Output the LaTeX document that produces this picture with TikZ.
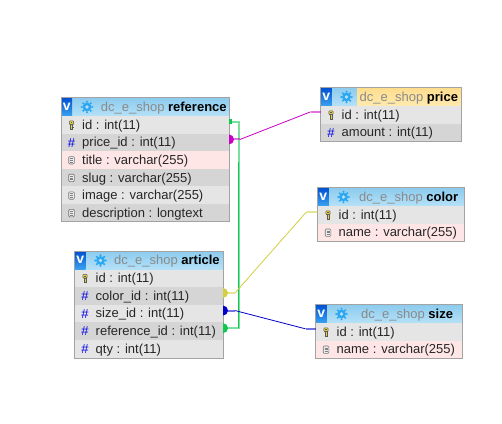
\documentclass[tikz,border=0pt]{standalone}
\usepackage{fontspec}
\setmainfont{Liberation Sans}
\definecolor{frameC}{HTML}{A3A3A3}
\definecolor{rowA}{HTML}{E5E5E5}
\definecolor{rowB}{HTML}{D5D5D5}
\definecolor{rowP}{HTML}{FFE6E6}
\definecolor{headT}{HTML}{8CCBEE}
\definecolor{headB}{HTML}{B5E1F8}
\definecolor{yelT}{HTML}{FFDD8C}
\definecolor{yelB}{HTML}{FFEAB0}
\definecolor{vT}{HTML}{0050D0}
\definecolor{vB}{HTML}{3AA2F2}
\definecolor{gearC}{HTML}{2BA6F0}
\definecolor{hashC}{HTML}{0000E6}
\definecolor{dbC}{HTML}{8A8A8A}
\definecolor{keyC}{HTML}{E8D040}
\definecolor{cGreen}{HTML}{10C850}
\definecolor{cMag}{HTML}{C800C8}
\definecolor{cYel}{HTML}{D2D040}
\definecolor{cBlue}{HTML}{0000C8}
\tikzset{
  x=1pt,y=-1pt,
  rowbox/.style={anchor=north west,inner sep=0pt,outer sep=0pt,minimum width=#1,minimum height=17.7pt},
  rowtext/.style={anchor=base west,inner sep=0pt,font=\fontsize{13}{15}\selectfont,text=black!85},
  hashtext/.style={anchor=center,inner sep=0pt,font=\fontsize{13}{15}\selectfont,text=hashC},
  titletext/.style={anchor=base west,inner sep=0pt,font=\fontsize{13}{15}\selectfont,text=dbC},
  framebox/.style={anchor=north west,draw=frameC,line width=1pt,inner sep=0pt,outer sep=0pt},
  halo/.style={line width=2pt,opacity=.55},
  wire/.style={line width=.8pt},
}
% key icon at (#1)
\newcommand{\keyicon}[1]{%
  \begin{scope}[shift={(#1)}]
    \draw[black!65,fill=keyC,line width=.6pt,rounded corners=.8pt] (-2.1,-4.2) rectangle (2.1,-.4);
    \draw[black!65,fill=keyC,line width=.6pt] (-1,-.4) rectangle (1,4);
    \fill[black!65] (-.7,-3) rectangle (.7,-2);
    \fill[black!65] (1,1.6) rectangle (2,2.4);
  \end{scope}}
% document icon at (#1)
\newcommand{\docicon}[1]{%
  \begin{scope}[shift={(#1)}]
    \draw[black!55,fill=white!92!black,line width=.6pt,rounded corners=1pt] (-2.8,-3.6) rectangle (2.8,3.8);
    \foreach \ly in {-1.7,0.1,1.9}{\draw[black!50,line width=.6pt] (-1.5,\ly) -- (1.5,\ly);}
  \end{scope}}
% header: #1 tag, #2 width, #3 title text offset, #4 table name, #5 colour top, #6 colour bottom
\newcommand{\tablehead}[6]{%
  \node[rowbox=#2,minimum height=18.5pt,top color=headT,bottom color=headB] (#1Head) at (0,0) {};
  \ifx#5headT\else\fill[top color=#5,bottom color=#6] (37,0) rectangle (#2,18.5);\fi
  \node[rowbox=10.5,minimum height=18.5pt,top color=vT,bottom color=vB,text=white,font=\fontsize{14}{15}\bfseries\selectfont] (#1V) at (.5,0) {v};
  \foreach \a in {0,45,...,315}{\fill[gearC] (26,9.5) ++(\a:5.2pt) circle (1.15pt);}
  \fill[gearC] (26,9.5) circle (4.4pt);
  \fill[headB] (26,9.5) circle (1.9pt);
  \node[titletext] (#1Title) at (#3,13.8) {dc\_e\_shop \textcolor{black}{\textbf{#4}}};}
% row: #1 node name, #2 index, #3 width, #4 fill, #5 icon kind, #6 text
\newcommand{\tablerow}[6]{%
  \pgfmathsetmacro{\rowy}{18.5+(#2-1)*17.6}
  \node[rowbox=#3,fill=#4] (#1) at (0,\rowy) {};
  \node[rowtext] (#1Text) at (21,\rowy+13.2) {#6};
  \coordinate (#1Icon) at (10.5,\rowy+9);
  \ifcase#5\relax \keyicon{#1Icon}\or \node[hashtext] (#1Hash) at (#1Icon) {\#};\or \docicon{#1Icon}\fi}
\begin{document}
\begin{tikzpicture}
\useasboundingbox[fill=white] (0,0) rectangle (502,423);

% reference
\begin{scope}[shift={(61,97.5)}]
  \tablehead{ref}{168}{39.7}{reference}{headT}{headB}
  \tablerow{refA}{1}{168}{rowA}{0}{id : int(11)}
  \tablerow{refB}{2}{168}{rowB}{1}{price\_id : int(11)}
  \tablerow{refC}{3}{168}{rowP}{2}{title : varchar(255)}
  \tablerow{refD}{4}{168}{rowB}{2}{slug : varchar(255)}
  \tablerow{refE}{5}{168}{rowA}{2}{image : varchar(255)}
  \tablerow{refF}{6}{168}{rowB}{2}{description : longtext}
  \node[framebox,minimum width=168pt,minimum height=124.1pt] (refFrame) at (0,0) {};
\end{scope}

% article
\begin{scope}[shift={(74.5,251)}]
  \tablehead{art}{148.5}{39.5}{article}{headT}{headB}
  \tablerow{artA}{1}{148.5}{rowA}{0}{id : int(11)}
  \tablerow{artB}{2}{148.5}{rowB}{1}{color\_id : int(11)}
  \tablerow{artC}{3}{148.5}{rowA}{1}{size\_id : int(11)}
  \tablerow{artD}{4}{148.5}{rowB}{1}{reference\_id : int(11)}
  \tablerow{artE}{5}{148.5}{rowA}{1}{qty : int(11)}
  \node[framebox,minimum width=148.5pt,minimum height=107pt] (artFrame) at (0,0) {};
\end{scope}

% price
\begin{scope}[shift={(320.5,87.5)}]
  \tablehead{pri}{140.5}{39}{price}{yelT}{yelB}
  \tablerow{priA}{1}{140.5}{rowA}{0}{id : int(11)}
  \tablerow{priB}{2}{140.5}{rowB}{1}{amount : int(11)}
  \node[framebox,minimum width=140.5pt,minimum height=54pt] (priFrame) at (0,0) {};
\end{scope}

% color
\begin{scope}[shift={(317.5,187.5)}]
  \tablehead{col}{146.5}{41.5}{color}{headT}{headB}
  \tablerow{colA}{1}{146.5}{rowA}{0}{id : int(11)}
  \tablerow{colB}{2}{146.5}{rowP}{2}{name : varchar(255)}
  \node[framebox,minimum width=146.5pt,minimum height=54pt] (colFrame) at (0,0) {};
\end{scope}

% size
\begin{scope}[shift={(315.5,304.5)}]
  \tablehead{siz}{146.5}{45.5}{size}{headT}{headB}
  \tablerow{sizA}{1}{146.5}{rowA}{0}{id : int(11)}
  \tablerow{sizB}{2}{146.5}{rowP}{2}{name : varchar(255)}
  \node[framebox,minimum width=146.5pt,minimum height=54pt] (sizFrame) at (0,0) {};
\end{scope}

% connector anchor points
\coordinate (gA) at ([yshift=3pt]refA.east);
\coordinate (gB) at ([yshift=3pt]artD.east);
\coordinate (gX) at (238.5,0);
\coordinate (mA) at ([yshift=3pt]refB.east);
\coordinate (mB) at ([yshift=3pt]priA.west);
\coordinate (yA) at ([yshift=3pt]artB.east);
\coordinate (yB) at ([yshift=3pt]colA.west);
\coordinate (bA) at ([yshift=3pt]artC.east);
\coordinate (bB) at ([yshift=3pt]sizA.west);

% green: reference.id - article.reference_id
\draw[halo,cGreen] (gA) -- (gX |- gA) -- (gX |- gB) -- (gB);
\draw[wire,cGreen] ([yshift=-40pt]gX |- gA) -- (gX |- gB);
\fill[cGreen] ([shift={(0pt,2.5pt)}]gA) rectangle ([shift={(3pt,-2.5pt)}]gA);
\fill[cGreen] ([yshift=5pt]gB) arc[start angle=90,delta angle=-180,radius=5pt];

% magenta: reference.price_id - price.id
\draw[halo,cMag] (mA) -- ([xshift=11pt]mA);
\draw[halo,cMag] ([xshift=-10pt]mB) -- (mB);
\draw[wire,cMag] ([xshift=11pt]mA) -- ([xshift=-10pt]mB);
\fill[cMag] ([yshift=5pt]mA) arc[start angle=90,delta angle=-180,radius=5pt];

% yellow: article.color_id - color.id
\draw[halo,cYel] (yA) -- ([xshift=12pt]yA);
\draw[halo,cYel] ([xshift=-11pt]yB) -- (yB);
\draw[wire,cYel] ([xshift=12pt]yA) -- ([xshift=-11pt]yB);
\fill[cYel] ([yshift=5pt]yA) arc[start angle=90,delta angle=-180,radius=5pt];

% blue: article.size_id - size.id
\draw[halo,cBlue] (bA) -- ([xshift=12pt]bA);
\draw[halo,cBlue] ([xshift=-10pt]bB) -- (bB);
\draw[wire,cBlue] ([xshift=12pt]bA) -- ([xshift=-10pt]bB);
\fill[cBlue] ([yshift=5pt]bA) arc[start angle=90,delta angle=-180,radius=5pt];
\end{tikzpicture}
\end{document}
